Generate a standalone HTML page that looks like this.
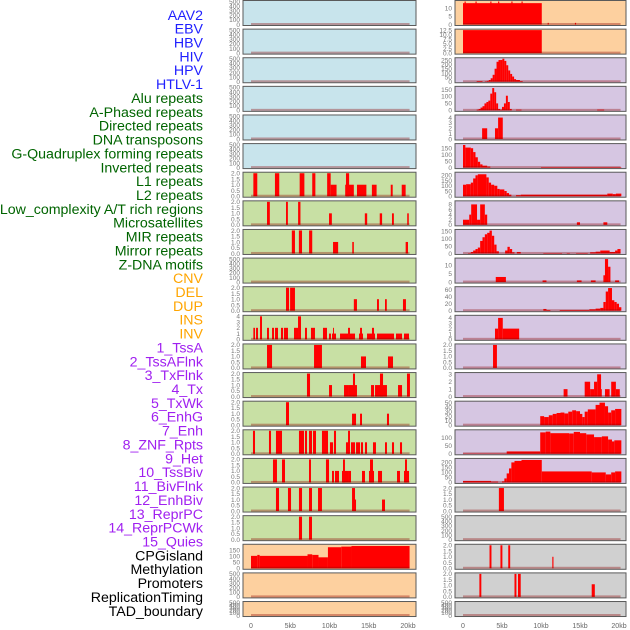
<!DOCTYPE html>
<html><head><meta charset="utf-8"><style>
body{margin:0;background:#fff;}
svg{display:block;font-family:"Liberation Sans",sans-serif;}
</style></head><body>
<svg id="chart" width="630" height="630" viewBox="0 0 630 630" xmlns="http://www.w3.org/2000/svg"></svg>
<script>
const labelNames=["AAV2","EBV","HBV","HIV","HPV","HTLV-1","Alu repeats","A-Phased repeats","Directed repeats","DNA transposons","G-Quadruplex forming repeats","Inverted repeats","L1 repeats","L2 repeats","Low_complexity A/T rich regions","Microsatellites","MIR repeats","Mirror repeats","Z-DNA motifs","CNV","DEL","DUP","INS","INV","1_TssA","2_TssAFlnk","3_TxFlnk","4_Tx","5_TxWk","6_EnhG","7_Enh","8_ZNF_Rpts","9_Het","10_TssBiv","11_BivFlnk","12_EnhBiv","13_ReprPC","14_ReprPCWk","15_Quies","CPGisland","Methylation","Promoters","ReplicationTiming","TAD_boundary"];
const labelGroups=[0,0,0,0,0,0,1,1,1,1,1,1,1,1,1,1,1,1,1,2,2,2,2,2,3,3,3,3,3,3,3,3,3,3,3,3,3,3,3,4,4,4,4,4];
const groupColors=["#1f1fff","#006400","#ffa500","#a020f0","#000000"];
const groupFills=["#c8e4ec","#c8e0a4","#fdd09f","#d6c6e2","#d0d0d0"];
const xTickValues=[0,5,10,15,20];
const xTickLabels=["0","5kb","10kb","15kb","20kb"];
const T500=[0,100,200,300,400,500], T2=[0,0.5,1,1.5,2], T4=[0,1,2,3,4];
const leftTicks=[T500,T500,T500,T500,T500,T500,T2,T2,T2,T500,T2,T4,T2,T2,T2,T2,T2,T2,T2,[0,50,100,150],T500,T500];
const leftMax=[500,500,500,500,500,500,2,2,2,500,2,4,2,2,2,2,2,2,2,189,500,500];
const leftBars=[[],[],[],[],[],[],
[[0.3,0.8,2],[3.05,3.6,2],[6.2,6.8,2],[7.8,8.2,2],[9.7,10.15,2],[10.15,10.9,1],[12.0,13.1,1],[12.1,12.5,2],[13.5,14.7,1],[15.4,16.0,1],[17.8,18.05,1],[19.2,19.7,1]],
[[2.04,2.4,2],[4.46,4.7,2],[6.0,6.3,2],[9.94,10.3,1],[14.5,14.8,1],[16.4,16.7,1],[17.96,18.2,1],[19.9,20.1,1]],
[[5.2,5.6,2],[6.1,6.5,2],[7.4,7.8,2],[10.45,11.1,1],[12.9,13.1,1],[19.7,20.0,1]],
[],
[[4.46,4.85,2],[4.98,5.6,2],[13.1,13.5,1],[16.05,16.3,1],[17.07,17.3,1],[19.36,19.74,1]],
[[0.3,0.51,2],[0.64,0.89,2],[1.15,1.4,4],[2.04,2.29,2],[2.68,2.93,2],[3.06,3.44,2],[3.82,4.08,2],[4.2,4.71,2],[5.48,5.99,2],[5.99,6.37,4],[6.88,7.13,2],[7.64,8.15,2],[9.17,9.68,2],[9.94,10.19,1],[10.32,10.83,1],[10.45,10.57,2],[11.34,12.36,1],[12.36,12.61,2],[12.61,13.25,1],[13.76,14.27,1],[13.89,14.14,2],[14.78,15.8,1],[15.41,15.67,2],[16.05,18.22,1],[18.47,19.24,1],[19.49,20.13,1]],
[[2.04,2.68,2],[8.03,9.04,2],[14.01,14.65,1],[17.45,18.09,1]],
[[7.13,7.52,2],[9.94,10.32,1],[11.85,12.36,1],[12.36,13.5,1],[12.99,13.25,2],[15.29,15.67,1],[15.8,17.32,1],[16.43,16.82,2],[18.73,19.24,1],[19.87,20.25,2]],
[[4.46,4.84,2],[12.87,13.38,1],[13.89,14.14,1],[17.32,17.58,1]],
[[0.25,0.51,2],[2.29,2.55,2],[3.18,3.95,2],[6.11,6.75,2],[6.88,7.13,2],[7.39,7.77,2],[7.9,8.28,2],[9.04,9.81,2],[10.06,10.45,1],[10.57,10.83,2],[12.1,12.48,1],[12.36,12.61,2],[12.74,13.25,1],[13.38,13.89,1],[14.01,14.27,1],[14.52,14.78,1],[15.54,15.92,1],[17.07,17.32,1],[17.96,18.22,1],[18.98,19.24,1]],
[[2.8,3.31,2],[3.95,4.33,2],[7.39,7.64,2],[9.55,9.94,2],[10.32,10.57,1],[10.7,11.21,1],[11.59,12.36,1],[11.72,11.97,2],[12.36,12.74,1],[14.14,14.52,1],[15.03,15.67,1],[15.16,15.54,2],[16.18,16.69,1],[18.6,18.98,1],[19.49,20.13,1],[19.62,19.87,2]],
[[3.18,3.57,2],[4.71,5.1,2],[6.11,6.5,2],[7.39,7.77,2],[8.54,9.04,2],[12.87,13.25,2],[13.0,13.38,1],[16.69,17.07,1]],
[[6.11,6.5,2],[7.39,7.77,2]],
[[0,0.8,102],[0.8,1.1,110],[1.1,7.2,102],[7.2,7.8,115],[7.8,8.6,110],[8.6,9.8,90],[9.8,11.5,173],[11.5,12.8,178],[12.8,20.2,183]],
[],[]];
const rightTicks=[[0,5,10],[0,2.5,5,7.5,10,12.5],[0,50,100,150,200,250],[0,50,100,150],T4,[0,50,100,150],[0,50,100,150,200],[0,2,4,6,8],[0,50,100,150],[0,5,10],[0,20,40,60],T4,T2,[0,1,2,3],[0,10,20,30,40,50],[0,50,100],[0,50,100,150,200],T2,T500,T2,T2,T500];
const rightMax=[14,12.5,265,165,4.3,178,220,9,156,13.5,66,4.3,2,3.1,51,145,230,2,500,2,2,500];
const rightBars=[
[[0,10.1,13],[0.2,0.35,14],[1.6,1.75,14],[3.5,3.65,14],[4.5,4.65,14],[6.2,6.35,14],[7.5,7.65,14],[10.85,11.0,1],[14.35,14.5,1]],
[[0,10.1,12.5]],
[[1.75,2.5,8],[2.8,3.05,5],[3.05,3.3,10],[3.3,3.55,20],[3.55,3.8,40],[3.8,4.05,80],[4.05,4.3,150],[4.3,4.55,230],[4.55,4.8,250],[4.8,5.05,250],[5.05,5.3,265],[5.3,5.55,240],[5.55,5.8,190],[5.8,6.05,130],[6.05,6.3,90],[6.3,6.55,60],[6.55,6.8,30],[6.8,7.3,20],[7.3,7.65,8]],
[[1.75,2.0,5],[2.0,2.25,10],[2.25,2.5,20],[2.5,2.75,30],[2.75,3.0,50],[3.0,3.25,60],[3.25,3.5,70],[3.5,3.75,120],[3.75,4.0,160],[4.0,4.25,130],[4.25,4.5,50],[4.5,4.75,10],[4.75,5.0,5],[5.0,5.25,25],[5.25,5.5,50],[5.5,5.75,105],[5.75,6.0,60],[6.0,6.25,10],[6.8,7.5,5],[17.2,18.1,5]],
[[2.45,3.1,2],[4.1,4.5,2],[4.5,5.1,4]],
[[0,0.3,175],[0.3,1.0,155],[1.0,1.3,150],[1.3,1.6,120],[1.6,1.9,80],[1.9,2.2,45],[2.2,2.5,25],[2.5,3.1,15],[3.1,3.5,8],[10.0,20.3,4]],
[[0,0.4,110],[0.4,1.0,115],[1.0,1.3,130],[1.3,1.6,170],[1.6,1.9,200],[1.9,3.0,210],[3.0,3.3,180],[3.3,3.6,130],[3.6,4.0,110],[4.0,4.4,100],[4.4,4.7,70],[4.7,5.3,65],[5.3,5.6,50],[5.6,5.9,30],[5.9,6.2,15],[6.8,7.4,10],[7.4,18.5,15],[18.5,19.2,25],[19.2,19.6,20],[19.6,20.3,25]],
[[0,0.8,2],[0.8,1.05,4],[1.05,1.8,8],[1.8,2.2,2],[2.2,2.8,8],[2.8,3.1,4],[14.6,15.0,1],[18.0,18.5,1]],
[[0.65,1.0,3],[1.0,1.3,10],[1.3,1.6,20],[1.6,1.9,30],[1.9,2.2,40],[2.2,2.5,85],[2.5,2.8,110],[2.8,3.1,130],[3.1,3.4,140],[3.4,3.7,155],[3.7,4.0,120],[4.0,4.3,60],[4.3,4.6,15],[5.4,5.7,20],[5.7,6.0,45],[6.0,6.3,30],[6.3,6.6,8],[6.9,7.4,10],[10.3,12.7,3],[13.3,13.7,3],[14.5,16.0,3],[16.3,17.0,8],[17.0,17.6,12],[17.6,18.8,20],[18.8,19.5,10],[19.5,19.8,20],[19.8,20.2,30]],
[[4.2,5.5,3],[10.2,10.7,1],[14.6,15.2,1],[16.4,17.0,1],[18.0,18.2,4],[18.2,18.6,13.5],[18.6,18.9,9],[19.5,20.0,1]],
[[10.3,10.7,5],[10.7,11.2,2],[12.4,16.2,2],[16.2,17.0,4],[17.0,17.6,6],[17.6,18.0,8],[18.0,18.3,25],[18.3,18.6,55],[18.6,19.1,65],[19.1,19.4,30],[19.4,19.7,25],[19.7,20.0,20],[20.0,20.3,10]],
[[4.1,4.5,2],[4.5,5.1,4],[5.1,7.2,2]],
[[3.85,4.35,2]],
[[12.9,13.4,1],[15.6,16.3,2],[16.3,16.8,1],[16.8,17.2,2],[17.2,17.7,3],[17.7,17.8,1],[18.2,18.8,1],[19.0,19.6,2],[19.6,20.1,1]],
[[9.9,10.4,20],[10.4,11.0,18],[11.0,11.5,22],[11.5,12.0,25],[12.0,12.5,27],[12.5,13.0,28],[13.0,13.5,26],[13.5,14.0,30],[14.0,14.5,33],[14.5,15.0,31],[15.0,15.3,25],[15.3,15.6,18],[15.6,16.0,30],[16.0,17.0,35],[17.0,17.5,45],[17.5,18.2,50],[18.2,18.6,42],[18.6,19.0,28],[19.0,19.5,33],[19.5,20.3,36]],
[[0,5.6,2],[5.6,9.9,15],[9.9,10.6,135],[10.6,11.2,140],[11.2,13.6,130],[13.6,14.2,128],[14.2,15.0,138],[15.0,15.8,130],[15.8,16.8,122],[16.8,17.8,105],[17.8,18.6,110],[18.6,19.1,90],[19.1,19.4,78],[19.4,20.3,85]],
[[0,3.6,15],[3.6,4.5,8],[5.0,5.3,10],[5.3,5.6,40],[5.6,5.9,90],[5.9,6.2,140],[6.2,6.6,200],[6.6,7.5,215],[7.5,10.1,225],[10.1,16.5,110],[16.5,18.3,100],[18.3,19.0,80],[19.0,19.5,100],[19.5,20.3,110]],
[[4.6,5.25,2]],
[],
[[3.4,3.65,2],[4.8,5.05,2],[5.8,6.05,2],[11.45,11.6,1]],
[[2.1,2.35,2],[6.6,6.85,2],[7.05,7.4,2],[16.5,16.9,1.1]],
[]];
const leftFillGroup=[0,0,0,0,0,0,1,1,1,1,1,1,1,1,1,1,1,1,1,2,2,2];
const rightFillGroup=[2,2,3,3,3,3,3,3,3,3,3,3,3,3,3,3,3,4,4,4,4,4];

const svg=document.getElementById('chart');
const NS="http://www.w3.org/2000/svg";
function mk(tag,attrs,parent){const e=document.createElementNS(NS,tag);for(const k in attrs)e.setAttribute(k,attrs[k]);(parent||svg).appendChild(e);return e;}

labelNames.forEach((n,i)=>{
  const t=mk('text',{x:203,y:15+i*13.86+4.8,'text-anchor':'end','font-size':'14.2',fill:groupColors[labelGroups[i]]});
  t.textContent=n;
  
  
});

function rowTop(i){return i*28.62;}
function rowH(i){return i===21?15:25;}
function drawColumn(col,px0,px1,x0px,x20px,ticksArr,maxArr,barsArr,fillArr){
  const xs=kb=>x0px+(x20px-x0px)*kb/20;
  barsArr.forEach((bars,i)=>{
    const g=mk('g',{});
    
    
    const top=rowTop(i)+0.5,h=rowH(i),bot=top+h;
    mk('rect',{x:px0,y:top,width:px1-px0,height:h,fill:groupFills[fillArr[i]],stroke:'#5a5a5a','stroke-width':1},g);
    const ymax=maxArr[i];
    const ys=v=>(bot-1)-(h-2)*v/ymax;
    bars.forEach(b=>{
      const r=mk('rect',{x:xs(b[0]),y:ys(b[2]),width:Math.max(0.8,xs(b[1])-xs(b[0])),height:(bot-1)-ys(b[2]),fill:'#ff0000'},g);
      
      
    });
    mk('rect',{x:xs(0),y:bot-2.5,width:xs(20.2)-xs(0),height:2,fill:'rgba(140,0,0,0.35)'},g);
    const ticks=ticksArr[i];
    const dec=ticks.some(t=>t%1!==0);
    ticks.forEach(t=>{
      const tx=mk('text',{x:px0-3,y:ys(t)+2.3,'text-anchor':'end','font-size':'6.5',fill:'#777'},g);
      tx.textContent=dec?t.toFixed(1):String(t);
      
      
    });
  });
  xTickValues.forEach((v,j)=>{
    const tx=mk('text',{x:xs(v),y:628,'text-anchor':'middle','font-size':'7',fill:'#666'});
    tx.textContent=xTickLabels[j];
    
    
  });
}
drawColumn('left',243,416,251,408,leftTicks,leftMax,leftBars,leftFillGroup);
drawColumn('right',455,626,463,619,rightTicks,rightMax,rightBars,rightFillGroup);
</script>
</body></html>
